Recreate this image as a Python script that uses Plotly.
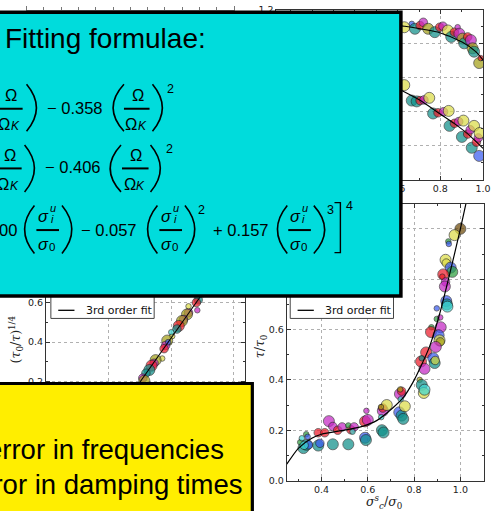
import plotly.graph_objects as go

# ---------------- data ----------------
# top-right panel (upper and lower series)
tr_upper_x = [0.631, 0.666, 0.681, 0.705, 0.720, 0.743, 0.774, 0.797, 0.812, 0.835, 0.851,
              0.866, 0.881, 0.889, 0.904, 0.912, 0.928, 0.943, 0.951, 0.958, 0.982, 0.989]
tr_upper_y = [1.098, 1.118, 1.089, 1.108, 1.127, 1.089, 1.069, 1.098, 1.104, 1.079, 1.041,
              1.069, 1.098, 1.060, 1.031, 1.003, 1.041, 1.022, 0.974, 0.954, 0.887, 0.916]
tr_upper_g = ['y', 'b', 't', 'r', 'm', 'o', 't', 'r', 'm', 'y', 't',
              'r', 'm', 'm', 'o', 't', 'r', 'm', 'o', 't', 'o', 'r']
tr_upper_s = ['L', 'S', 'L', 'M', 'M', 'L', 'L', 'M', 'M', 'L', 'L',
              'M', 'S', 'L', 'L', 'L', 'M', 'L', 'L', 'L', 'L', 'S']

tr_lower_x = [0.631, 0.666, 0.689, 0.705, 0.723, 0.748, 0.766, 0.789, 0.815, 0.839, 0.843, 0.866,
              0.886, 0.908, 0.901, 0.928, 0.940, 0.958, 0.947, 0.969, 0.978, 0.984, 0.982]
tr_lower_y = [0.757, 0.666, 0.661, 0.666, 0.670, 0.682, 0.590, 0.594, 0.600, 0.605, 0.517, 0.532,
              0.542, 0.548, 0.452, 0.469, 0.494, 0.517, 0.388, 0.421, 0.446, 0.475, 0.340]
tr_lower_g = ['y', 't', 't', 'r', 'm', 'y', 't', 'r', 'm', 'y', 't', 'r',
              'm', 'y', 't', 'r', 'm', 'y', 't', 'r', 'm', 'y', 'b']
tr_lower_s = ['L', 'L', 'L', 'M', 'M', 'L', 'L', 'M', 'M', 'L', 'L', 'M',
              'M', 'L', 'L', 'M', 'M', 'L', 'L', 'M', 'M', 'L', 'L']

tr_fit1_x = [0.40, 0.631, 0.797, 0.904, 0.966, 1.0]
tr_fit1_y = [1.14, 1.104, 1.066, 1.009, 0.954, 0.905]
tr_fit2_x = [0.40, 0.628, 0.705, 0.789, 0.866, 0.928, 1.0]
tr_fit2_y = [0.86, 0.720, 0.668, 0.596, 0.530, 0.470, 0.385]

# bottom-left panel: (tau0/tau)^(1/4)
bl_x = [0.683, 0.686, 0.680, 0.655, 0.650, 0.639, 0.634, 0.624, 0.618, 0.603, 0.587, 0.582,
        0.577, 0.571, 0.550, 0.545, 0.537, 0.530, 0.519, 0.509, 0.514, 0.655, 0.700, 0.720,
        0.590, 0.600]
bl_y = [0.561, 0.614, 0.600, 0.549, 0.540, 0.515, 0.507, 0.482, 0.466, 0.430, 0.408, 0.383,
        0.367, 0.317, 0.309, 0.293, 0.281, 0.259, 0.243, 0.218, 0.205, 0.581, 0.650, 0.690,
        0.400, 0.450]
bl_g = ['m', 't', 'r', 'm', 'o', 'm', 'o', 'r', 't', 'y', 'o', 'm',
        'r', 'y', 'o', 'm', 'r', 't', 't', 'm', 'o', 'y', 'r', 'm', 'b', 'c']
bl_s = ['S', 'M', 'M', 'M', 'L', 'M', 'L', 'L', 'M', 'S', 'L', 'M',
        'M', 'S', 'L', 'M', 'L', 'L', 'M', 'M', 'L', 'S', 'M', 'M', 'S', 'S']
bl_fit_x = [0.45, 0.75]
bl_fit_y = [0.086, 0.758]

# bottom-right panel: tau/tau0 vs sigma_c^s/sigma0
br_x = [0.322, 0.336, 0.344, 0.308, 0.334, 0.315, 0.340, 0.386, 0.414, 0.386, 0.393, 0.432,
        0.449, 0.470, 0.489, 0.449, 0.516, 0.527, 0.516, 0.541, 0.534, 0.588, 0.592, 0.588,
        0.600, 0.594, 0.661, 0.668, 0.665, 0.665, 0.682, 0.658, 0.739, 0.746, 0.742, 0.736,
        0.746, 0.753, 0.760, 0.824, 0.833, 0.842, 0.845, 0.657, 0.740, 0.325,
        1.000, 0.975, 0.948, 0.950, 0.936, 0.939, 0.958, 0.965, 0.926, 0.922, 0.936, 0.933,
        0.939, 0.942, 0.944, 0.898, 0.898, 0.913, 0.915, 0.875, 0.873, 0.906, 0.910, 0.913,
        0.894, 0.852, 0.883, 0.889, 0.891, 0.830, 0.833, 0.845]
br_y = [0.129, 0.142, 0.142, 0.152, 0.184, 0.168, 0.174, 0.190, 0.190, 0.139, 0.148, 0.236,
        0.215, 0.200, 0.213, 0.144, 0.144, 0.202, 0.219, 0.213, 0.194, 0.170, 0.161, 0.235,
        0.241, 0.277, 0.200, 0.191, 0.277, 0.288, 0.300, 0.252, 0.344, 0.355, 0.323, 0.271,
        0.258, 0.245, 0.295, 0.400, 0.380, 0.348, 0.361, 0.292, 0.362, 0.140,
        1.000, 0.975, 0.950, 0.940, 0.877, 0.864, 0.846, 0.829, 0.819, 0.810, 0.789, 0.771,
        0.713, 0.700, 0.691, 0.684, 0.642, 0.648, 0.609, 0.609, 0.590, 0.577, 0.557, 0.551,
        0.531, 0.509, 0.486, 0.467, 0.477, 0.473, 0.486, 0.444]
br_g = ['t', 't', 'b', 'g', 'g', 'c', 'b', 'r', 'r', 't', 'b', 'm',
        'm', 'r', 'm', 't', 't', 'r', 'g', 'm', 'c', 'b', 't', 'r',
        'm', 'm', 't', 't', 'm', 'r', 'y', 'c', 'm', 'r', 'c', 'b',
        't', 't', 'y', 'o', 't', 'y', 'c', 'o', 'o', 'c',
        'k', 'y', 'g', 'b', 'y', 'y', 'b', 'g', 'r', 'r', 'm', 'm',
        'b', 't', 'c', 'b', 'g', 'm', 'm', 'g', 'r', 'b', 'y', 'o',
        'm', 'r', 'b', 't', 'y', 'r', 't', 'm']
br_s = ['L', 'L', 'M', 'S', 'S', 'S', 'S', 'M', 'M', 'L', 'M', 'L',
        'M', 'M', 'M', 'L', 'L', 'M', 'S', 'M', 'S', 'L', 'L', 'L',
        'L', 'S', 'L', 'L', 'L', 'M', 'L', 'S', 'L', 'M', 'S', 'L',
        'L', 'L', 'L', 'S', 'L', 'L', 'L', 'S', 'S', 'M',
        'L', 'L', 'S', 'S', 'L', 'M', 'L', 'L', 'L', 'S', 'M', 'L',
        'L', 'L', 'L', 'S', 'S', 'S', 'L', 'S', 'L', 'L', 'L', 'M',
        'L', 'L', 'L', 'L', 'M', 'L', 'S', 'L']
br_fit_x = [0.25, 0.301, 0.358, 0.40, 0.499, 0.569, 0.640, 0.710, 0.753, 0.795, 0.830,
            0.866, 0.908, 0.951, 1.0, 1.024]
br_fit_y = [0.065, 0.129, 0.168, 0.184, 0.200, 0.213, 0.239, 0.290, 0.329, 0.390, 0.455,
            0.530, 0.654, 0.810, 1.0, 1.10]

legend_label = "3rd order fit"
title_text = "Fitting formulae:"
note_lines = ["error in frequencies", "error in damping times"]

# ---------------- styles ----------------
COLORS = {'t': '#10908a', 'c': '#3fd6d2', 'b': '#3a5cf0', 'r': '#ee1c2a', 'm': '#c428c4',
          'y': '#dcdc48', 'o': '#a4a018', 'g': '#2ea040', 'k': '#6e4a08'}
SIZES = {'L': 11, 'M': 8.5, 'S': 5.5}

W, H = 493, 511


def X(p):
    return p / W


def Y(p):
    return 1 - p / H


def marker(groups, sizes):
    return dict(color=[COLORS[g] for g in groups], size=[SIZES[s] for s in sizes],
                opacity=0.72, line=dict(color='#1a1a1a', width=0.8))


fig = go.Figure()
fig.add_trace(go.Scatter(x=tr_upper_x, y=tr_upper_y, mode='markers', marker=marker(tr_upper_g, tr_upper_s),
                         xaxis='x', yaxis='y', showlegend=False))
fig.add_trace(go.Scatter(x=tr_lower_x, y=tr_lower_y, mode='markers', marker=marker(tr_lower_g, tr_lower_s),
                         xaxis='x', yaxis='y', showlegend=False))
fig.add_trace(go.Scatter(x=tr_fit1_x, y=tr_fit1_y, mode='lines',
                         line=dict(color='black', width=1.1, shape='spline', smoothing=0.7),
                         xaxis='x', yaxis='y', showlegend=False))
fig.add_trace(go.Scatter(x=tr_fit2_x, y=tr_fit2_y, mode='lines',
                         line=dict(color='black', width=1.1, shape='spline', smoothing=0.7),
                         xaxis='x', yaxis='y', showlegend=False))
fig.add_trace(go.Scatter(x=bl_x, y=bl_y, mode='markers', marker=marker(bl_g, bl_s),
                         xaxis='x2', yaxis='y2', showlegend=False))
fig.add_trace(go.Scatter(x=bl_fit_x, y=bl_fit_y, mode='lines', line=dict(color='black', width=1.1),
                         xaxis='x2', yaxis='y2', showlegend=False))
fig.add_trace(go.Scatter(x=br_x, y=br_y, mode='markers', marker=marker(br_g, br_s),
                         xaxis='x3', yaxis='y3', showlegend=False))
fig.add_trace(go.Scatter(x=br_fit_x, y=br_fit_y, mode='lines',
                         line=dict(color='black', width=1.2, shape='spline', smoothing=0.7),
                         xaxis='x3', yaxis='y3', showlegend=False))
fig.add_trace(go.Scatter(x=[], y=[], xaxis='x4', yaxis='y4', showlegend=False))

tickfont = dict(family='DejaVu Sans', size=9.5, color='#222')


def ax(domain, rng, anchor, labels=True):
    return dict(domain=domain, range=rng, anchor=anchor, showline=True, linecolor='#333', linewidth=1,
                mirror='allticks', ticks='inside', ticklen=4, tickwidth=0.8, tickcolor='#333',
                showgrid=True, gridcolor='#b0b0b0', griddash='dot', gridwidth=0.8, zeroline=False,
                tickfont=tickfont, tickformat='.1f', dtick=0.2, tick0=0, showticklabels=labels,
                ticklabeloverflow='allow',
                minor=dict(dtick=0.1, ticks='inside', ticklen=2, tickcolor='#333', showgrid=False))


bot_dom = [Y(485), Y(202)]
fig.update_layout(
    width=W, height=H, margin=dict(l=0, r=0, t=0, b=0),
    paper_bgcolor='white', plot_bgcolor='white',
    xaxis=ax([X(281), X(491)], [0.032, 1.0], 'y'),
    yaxis=ax([Y(177.5), Y(4)], [0.2, 1.2], 'x'),
    xaxis2=ax([X(46.7), X(249.3)], [0.2, 0.836], 'y2', labels=False),
    yaxis2=ax(bot_dom, [-0.3, 1.1], 'x2'),
    xaxis3=ax([X(291.5), X(491.5)], [0.25, 1.1], 'y3'),
    yaxis3=ax(bot_dom, [0.0, 1.1], 'x3'),
    xaxis4=dict(domain=[X(27), X(238)], range=[0, 1.2], anchor='y4', showline=True, linecolor='#777',
                linewidth=1, ticks='inside', ticklen=3, tickcolor='#777', dtick=0.1, showticklabels=False,
                showgrid=False, zeroline=False),
    yaxis4=dict(domain=[Y(4.5), 1], range=[0, 1], anchor='x4', showline=True, linecolor='#777', mirror=True,
                linewidth=1, showticklabels=False, showgrid=False, zeroline=False, ticks=''),
)

shapes = []
anns = []
FF = 'Liberation Sans'


def text(s, x, y, size, anchor='center', family=FF, color='black', angle=0):
    anns.append(dict(text=s, x=X(x), y=Y(y), xref='paper', yref='paper', showarrow=False,
                     xanchor=anchor, yanchor='middle', textangle=angle,
                     font=dict(family=family, size=size, color=color)))


def rect(x0, x1, y0, y1, fill, lc, lw):
    shapes.append(dict(type='rect', xref='paper', yref='paper', x0=X(x0), x1=X(x1), y0=Y(y0), y1=Y(y1),
                       fillcolor=fill, line=dict(color=lc, width=lw), layer='above'))


def hline(x0, x1, y, w=2.0, color='black'):
    shapes.append(dict(type='line', xref='paper', yref='paper', x0=X(x0), x1=X(x1), y0=Y(y), y1=Y(y),
                       line=dict(color=color, width=w), layer='above'))


def paren(xl, xr, yt, yb, side):
    ym = (yt + yb) / 2
    if side == '(':
        path = f"M {X(xr)},{Y(yt)} Q {X(2 * xl - xr)},{Y(ym)} {X(xr)},{Y(yb)}"
    else:
        path = f"M {X(xl)},{Y(yt)} Q {X(2 * xr - xl)},{Y(ym)} {X(xl)},{Y(yb)}"
    shapes.append(dict(type='path', xref='paper', yref='paper', path=path,
                       line=dict(color='black', width=1.6), layer='above'))


def bracket(xl, xr, yt, yb):
    path = f"M {X(xl)},{Y(yt)} L {X(xr)},{Y(yt)} L {X(xr)},{Y(yb)} L {X(xl)},{Y(yb)}"
    shapes.append(dict(type='path', xref='paper', yref='paper', path=path,
                       line=dict(color='black', width=1.4), layer='above'))


# legends of the lower panels (drawn under the boxes)
for lx in (51.7, 295.0):
    rect(lx, lx + 105, 270, 319.3, 'white', '#444', 1)
    hline(lx + 7.5, lx + 24, 311, w=1.3)
    text(legend_label, lx + 33.5, 311, 11, anchor='left', family='DejaVu Sans', color='#111')

# axis titles of the lower panels
text('(<i>τ</i><sub>0</sub>/<i>τ</i>)<sup>1/4</sup>', 16, 341, 12.5, family='DejaVu Serif', color='#222', angle=-90)
text('<i>τ</i>/<i>τ</i><sub>0</sub>', 265, 348, 12.5, family='DejaVu Serif', color='#222', angle=-90)
text('<i>σ</i><sup><i>s</i></sup><sub><i>c</i></sub>/<i>σ</i><sub>0</sub>', 390, 506.5, 12.5,
     family='DejaVu Serif', color='#222')

# overlay boxes
rect(-10, 407.5, 6.5, 296.5, '#00dcdc', 'black', 3.5)
rect(-10, 256.5, 385.8, 530, '#ffee00', 'black', 3.2)

# fitting-formula box content
text(title_text, 3, 33.5, 28, anchor='left')


def frac_omega(cx, by, hw):
    hline(cx - hw, cx + hw, by)
    text('Ω', cx + 1, by - 14, 16.5)
    text('Ω', cx - 5.5, by + 15.5, 16.5)
    text('<i>K</i>', cx + 5.5, by + 17.5, 12)


def frac_sigma(cx, by, hw):
    hline(cx - hw, cx + hw, by)
    text('<i>σ</i>', cx - 4.5, by - 14.5, 16.5)
    text('<i>u</i>', cx + 5.5, by - 22.5, 11)
    text('<i>i</i>', cx + 4.5, by - 11, 11)
    text('<i>σ</i>', cx - 4, by + 14.5, 16.5)
    text('0', cx + 4.5, by + 17, 11.5)


# line 1
frac_omega(10, 105, 13)
paren(27, 37, 80, 128, ')')
text('− 0.358', 76.5, 104.2, 16.5)
paren(115, 126, 80, 128, '(')
frac_omega(139, 105, 13)
paren(155, 165, 80, 128, ')')
text('2', 173, 85, 12.5)

# line 2
frac_omega(9, 166, 13)
paren(25, 35, 142, 190, ')')
text('− 0.406', 74, 165, 16.5)
paren(112, 123, 142, 190, '(')
frac_omega(137.5, 166, 13.5)
paren(153, 163, 142, 190, ')')
text('2', 172, 146, 12.5)

# line 3
text('00', 19, 228.5, 16.5, anchor='right')
paren(25, 35, 204, 253, '(')
frac_sigma(48.5, 229, 11.5)
paren(63, 73, 204, 253, ')')
text('− 0.057', 111, 228.5, 16.5)
paren(150, 160, 204, 253, '(')
frac_sigma(173.5, 229, 11.5)
paren(188, 198, 204, 253, ')')
text('2', 205, 208, 12.5)
text('+ 0.157', 245, 228.5, 16.5)
paren(282, 292, 204, 253, '(')
frac_sigma(304.5, 229, 11.5)
paren(319, 330, 204, 253, ')')
text('3', 336, 208, 12.5)
bracket(340, 346, 201, 252)
text('4', 355, 204.5, 12.5)

# yellow box content
text(note_lines[0], 230, 453, 27.5, anchor='right')
text(note_lines[1], 249, 489, 27.5, anchor='right')

fig.update_layout(shapes=shapes, annotations=anns)
fig.write_html("out.html")
